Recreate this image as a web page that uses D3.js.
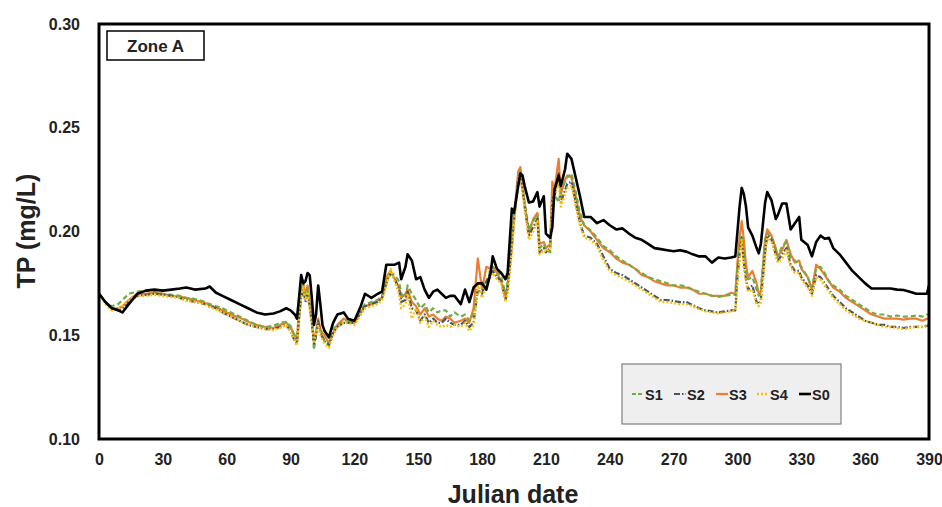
<!DOCTYPE html>
<html>
<head>
<meta charset="utf-8">
<script src="https://cdn.jsdelivr.net/npm/d3@7"></script>
<style>
  html, body { margin: 0; padding: 0; background: #fff; }
  svg { display: block; font-family: "Liberation Sans", Arial, sans-serif; }
  .tick-label { font-size: 16px; font-weight: bold; fill: #222; }
  .axis-title { font-size: 25px; font-weight: bold; fill: #222; }
</style>
</head>
<body>
<svg id="chart" width="942" height="507"></svg>
<script>
// Julian days shared by all series
const days = [
  0, 3, 6, 9, 11, 14, 18, 22, 26, 30,
  34, 38, 41, 45, 50, 52, 55, 58, 62, 66,
  70, 74, 78, 82, 85, 88, 90, 92, 93, 94,
  95, 96, 97, 98, 99, 100, 101, 102, 103, 104,
  105, 106, 108, 110, 112, 115, 117, 120, 123, 125,
  128, 131, 133, 135, 137, 139, 141, 142, 144, 145,
  147, 149, 151, 153, 155, 157, 159, 161, 163, 165,
  167, 170, 172, 174, 176, 178, 180, 182, 184, 185,
  187, 189, 191, 192, 194, 195, 197, 198, 199, 200,
  202, 204, 206, 207, 209, 210, 212, 213, 214, 216,
  217, 219, 220, 222, 224, 226, 228, 231, 234, 237,
  240, 243, 246, 249, 252, 255, 258, 261, 264, 267,
  270, 273, 276, 279, 282, 285, 288, 291, 294, 297,
  299, 300, 301, 302, 303, 304, 305, 307, 309, 310,
  311, 313, 314, 316, 318, 319, 321, 323, 325, 327,
  329, 330, 333, 335, 337, 339, 341, 343, 345, 348,
  351, 354, 357, 360, 363, 366, 369, 372, 375, 378,
  381, 384, 387, 389, 390
];

const s0 = [
  .170, .166, .163, .162, .161, .165, .170, .1715, .172, .1715,
  .172, .1725, .173, .172, .1725, .1735, .1705, .169, .167, .165,
  .163, .161, .160, .1605, .1615, .163, .162, .160, .158, .168,
  .179, .175, .176, .180, .179, .168, .155, .160, .174, .165,
  .155, .152, .149, .156, .160, .161, .158, .157, .164, .170,
  .168, .170, .171, .184, .184, .184, .185, .177, .183, .189,
  .186, .177, .178, .172, .168, .171, .172, .170, .168, .169,
  .169, .165, .172, .166, .173, .175, .175, .172, .180, .188,
  .182, .180, .177, .180, .211, .209, .222, .228, .227, .222,
  .214, .2145, .219, .212, .217, .199, .197, .202, .220, .227,
  .222, .230, .2375, .235, .226, .217, .207, .207, .204, .2055,
  .203, .201, .2015, .199, .197, .196, .194, .192, .1915, .191,
  .1905, .191, .1903, .189, .188, .188, .185, .1875, .187, .1875,
  .188, .200, .212, .221, .218, .212, .202, .198, .192, .1895,
  .194, .214, .219, .215, .206, .208, .2135, .2135, .201, .204,
  .207, .196, .1935, .188, .195, .198, .1965, .197, .192, .189,
  .185, .181, .178, .175, .1725, .1725, .1725, .1725, .172, .1718,
  .171, .170, .170, .170, .174
];

const s1 = [
  .170, .166, .164, .165, .167, .170, .171, .1715, .171, .170,
  .1695, .169, .168, .1675, .166, .165, .164, .163, .161, .159,
  .157, .155, .154, .1545, .156, .1565, .1545, .149, .147, .160,
  .170, .176, .168, .172, .164, .158, .143, .150, .156, .152,
  .150, .147, .146, .153, .155, .157, .157, .157, .162, .165,
  .166, .167, .169, .176, .180, .179, .176, .170, .168, .174,
  .170, .167, .163, .165, .161, .163, .161, .162, .162, .159,
  .161, .159, .160, .157, .160, .175, .176, .172, .183, .183,
  .181, .178, .170, .176, .197, .206, .226, .229, .222, .214,
  .201, .205, .208, .192, .194, .191, .190, .210, .218, .214,
  .220, .224, .226, .228, .219, .209, .203, .2005, .197, .193,
  .191, .188, .186, .184, .182, .180, .178, .177, .176, .175,
  .174, .174, .1735, .172, .171, .170, .169, .1685, .169, .1695,
  .1695, .183, .192, .198, .188, .180, .177, .178, .172, .169,
  .172, .196, .199, .197, .191, .188, .193, .195, .187, .186,
  .184, .183, .178, .173, .182, .183, .180, .176, .174, .172,
  .169, .167, .165, .163, .161, .160, .160, .159, .1595, .159,
  .159, .1595, .159, .160, .160
];

const s2 = [
  .170, .166, .163, .162, .163, .166, .169, .1695, .170, .1695,
  .169, .168, .167, .166, .165, .164, .163, .161, .159, .157,
  .155, .154, .153, .153, .154, .155, .152, .147, .146, .158,
  .168, .172, .166, .170, .164, .156, .146, .150, .157, .151,
  .149, .147, .145, .151, .154, .156, .156, .156, .161, .164,
  .165, .166, .168, .175, .180, .177, .172, .166, .167, .171,
  .163, .162, .157, .160, .156, .158, .156, .156, .158, .156,
  .155, .155, .157, .154, .156, .172, .170, .176, .180, .181,
  .178, .176, .167, .172, .193, .205, .225, .228, .220, .212,
  .198, .202, .206, .190, .192, .190, .192, .216, .217, .228,
  .214, .220, .223, .224, .214, .204, .198, .197, .194, .188,
  .182, .180, .179, .177, .175, .173, .171, .169, .167, .167,
  .1665, .166, .166, .1645, .163, .162, .1615, .161, .1615, .162,
  .162, .178, .189, .197, .185, .177, .172, .174, .166, .165,
  .167, .190, .198, .196, .189, .186, .189, .192, .184, .181,
  .181, .178, .174, .170, .179, .178, .175, .172, .169, .166,
  .163, .161, .159, .157, .156, .155, .155, .154, .154, .1535,
  .154, .154, .154, .1545, .155
];

const s3 = [
  .170, .166, .163, .163, .164, .167, .170, .170, .1705, .170,
  .169, .1685, .168, .167, .1655, .1645, .1635, .162, .160, .1585,
  .1565, .155, .154, .1535, .155, .156, .154, .150, .148, .162,
  .172, .174, .170, .174, .166, .157, .147, .152, .158, .153,
  .151, .150, .146, .151, .155, .158, .157, .156, .161, .164,
  .165, .167, .168, .178, .181, .177, .173, .168, .170, .172,
  .166, .164, .160, .163, .159, .160, .158, .157, .159, .158,
  .156, .157, .158, .156, .163, .187, .172, .183, .182, .183,
  .180, .176, .168, .174, .195, .207, .229, .231, .222, .213,
  .199, .206, .209, .194, .195, .192, .194, .224, .220, .235,
  .218, .225, .227, .226, .217, .207, .203, .200, .196, .192,
  .190, .187, .185, .184, .182, .179, .178, .176, .175, .174,
  .174, .173, .173, .172, .170, .170, .169, .169, .169, .1705,
  .170, .185, .197, .205, .196, .184, .178, .181, .175, .170,
  .171, .196, .201, .198, .192, .188, .191, .196, .189, .185,
  .186, .182, .178, .172, .184, .182, .179, .176, .173, .171,
  .168, .166, .164, .162, .160, .159, .158, .158, .158, .1575,
  .158, .158, .157, .158, .158
];

const s4 = [
  .170, .165, .162, .163, .164, .167, .169, .169, .1695, .169,
  .1685, .168, .1665, .166, .165, .1635, .1625, .161, .159, .157,
  .155, .154, .153, .1525, .1535, .155, .152, .147, .145, .158,
  .169, .173, .167, .171, .163, .156, .147, .151, .155, .150,
  .148, .146, .144, .150, .154, .156, .156, .155, .160, .163,
  .164, .165, .167, .174, .182, .176, .170, .163, .165, .170,
  .158, .163, .156, .159, .154, .157, .155, .154, .155, .154,
  .155, .154, .156, .152, .155, .174, .168, .174, .178, .180,
  .177, .175, .166, .170, .190, .204, .223, .229, .219, .211,
  .196, .200, .205, .189, .191, .190, .192, .214, .216, .226,
  .212, .218, .221, .222, .212, .203, .197, .196, .193, .186,
  .181, .179, .1775, .176, .174, .172, .170, .168, .166, .166,
  .1655, .165, .165, .164, .1625, .1615, .161, .1605, .161, .1615,
  .162, .175, .186, .196, .183, .176, .171, .172, .165, .164,
  .166, .188, .197, .195, .188, .185, .187, .191, .183, .180,
  .180, .177, .173, .169, .178, .177, .174, .171, .168, .165,
  .162, .160, .158, .157, .156, .155, .154, .154, .1535, .153,
  .1535, .154, .154, .155, .155
];

const seriesNames = ['S1', 'S2', 'S3', 'S4', 'S0'];
const xTicks = [0, 30, 60, 90, 120, 150, 180, 210, 240, 270, 300, 330, 360, 390];
const yTicks = [0.10, 0.15, 0.20, 0.25, 0.30];

const styles = {
  S1: { color: '#70ad47', width: 2.2, dash: '5,3' },
  S2: { color: '#44546a', width: 2.2, dash: '6,2,1.5,2' },
  S3: { color: '#ed7d31', width: 2.2, dash: null },
  S4: { color: '#ffc000', width: 2.4, dash: '2,2' },
  S0: { color: '#000000', width: 2.6, dash: null }
};

const valuesByName = { S1: s1, S2: s2, S3: s3, S4: s4, S0: s0 };

const plot = { left: 99, right: 929, top: 24, bottom: 439 };

const svg = d3.select('#chart');

const x = d3.scaleLinear().domain([0, 390]).range([plot.left, plot.right]);
const y = d3.scaleLinear().domain([0.10, 0.30]).range([plot.bottom, plot.top]);

const line = d3.line()
  .x(d => x(d[0]))
  .y(d => y(d[1]));

// draw order: scenarios first, baseline on top
const drawOrder = ['S3', 'S1', 'S2', 'S4', 'S0'];
const linesG = svg.append('g').attr('class', 'lines');
drawOrder.forEach(name => {
  const st = styles[name];
  const pts = days.map((d, i) => [d, valuesByName[name][i]]);
  linesG.append('path')
    .datum(pts)
    .attr('fill', 'none')
    .attr('stroke', st.color)
    .attr('stroke-width', st.width)
    .attr('stroke-dasharray', st.dash)
    .attr('stroke-linejoin', 'round')
    .attr('d', line);
});

// frame
svg.append('rect')
  .attr('x', plot.left)
  .attr('y', plot.top)
  .attr('width', plot.right - plot.left)
  .attr('height', plot.bottom - plot.top)
  .attr('fill', 'none')
  .attr('stroke', '#000')
  .attr('stroke-width', 3);

// axes (labels only, no tick marks)
const yAxis = d3.axisLeft(y).tickValues(yTicks).tickSize(0).tickPadding(19).tickFormat(d3.format('.2f'));
const yG = svg.append('g').attr('transform', `translate(${plot.left},0)`).call(yAxis);
yG.select('.domain').remove();
yG.selectAll('text').attr('class', 'tick-label').attr('font-family', null).attr('font-size', null);

const xAxis = d3.axisBottom(x).tickValues(xTicks).tickSize(0).tickPadding(15).tickFormat(d3.format('d'));
const xG = svg.append('g').attr('transform', `translate(0,${plot.bottom})`).call(xAxis);
xG.select('.domain').remove();
xG.selectAll('text').attr('class', 'tick-label').attr('font-family', null).attr('font-size', null);

svg.append('text')
  .attr('class', 'axis-title')
  .attr('x', 513)
  .attr('y', 503)
  .attr('text-anchor', 'middle')
  .text('Julian date');

svg.append('text')
  .attr('class', 'axis-title')
  .attr('transform', 'translate(35,231) rotate(-90)')
  .attr('text-anchor', 'middle')
  .text('TP (mg/L)');

// zone label
svg.append('rect')
  .attr('x', 107).attr('y', 31).attr('width', 97).attr('height', 29)
  .attr('fill', '#fff').attr('stroke', '#000').attr('stroke-width', 1.5);
svg.append('text')
  .attr('x', 155.5).attr('y', 52)
  .attr('text-anchor', 'middle')
  .attr('font-size', 17).attr('font-weight', 'bold').attr('fill', '#222')
  .text('Zone A');

// legend
const legend = svg.append('g').attr('class', 'legend');
legend.append('rect')
  .attr('x', 622).attr('y', 364).attr('width', 219).attr('height', 60)
  .attr('fill', '#efefef').attr('stroke', '#7f7f7f').attr('stroke-width', 1.2);
const legendX = [632, 674, 716, 757, 799];
seriesNames.forEach((name, i) => {
  const st = styles[name];
  const lx = legendX[i];
  legend.append('line')
    .attr('x1', lx).attr('x2', lx + 12)
    .attr('y1', 394).attr('y2', 394)
    .attr('stroke', st.color)
    .attr('stroke-width', st.width)
    .attr('stroke-dasharray', st.dash ? (name === 'S1' ? '4,2' : st.dash) : null);
  legend.append('text')
    .attr('x', lx + 13).attr('y', 399.5)
    .attr('font-size', 14.5).attr('font-weight', 'bold').attr('fill', '#222')
    .text(name);
});
</script>
</body>
</html>
